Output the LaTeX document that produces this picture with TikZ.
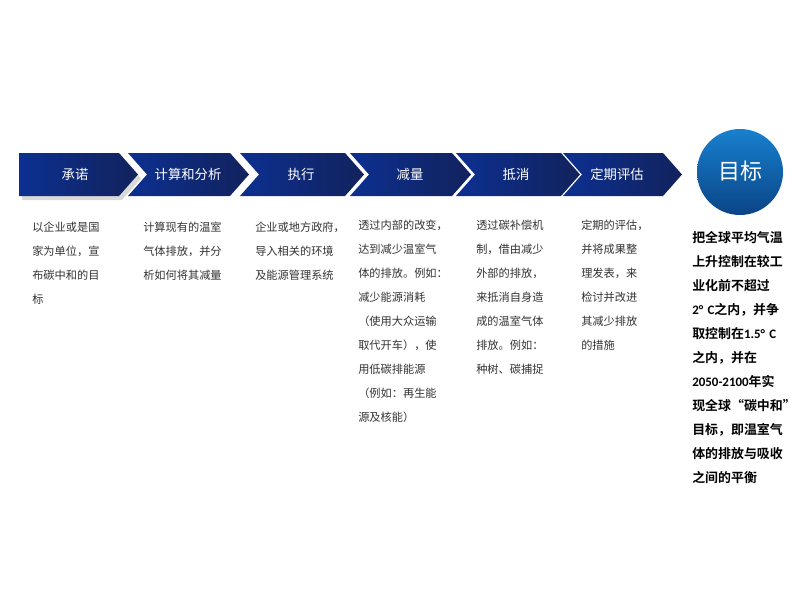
\documentclass[tikz,border=0pt]{standalone}
\usepackage{fontspec}
\setmainfont{Liberation Serif}
\newfontfamily\cjk[BoldFont={* Bold}]{Noto Sans CJK SC}
\newfontfamily\numf{Carlito}
\definecolor{navyL}{RGB}{12,48,145}
\definecolor{navyR}{RGB}{18,34,92}
\definecolor{ballT}{RGB}{24,128,206}
\definecolor{ballB}{RGB}{10,68,135}
\definecolor{bodyc}{RGB}{50,50,50}
\tikzset{
  chev/.style={left color=navyL, right color=navyR, draw=none},
  lab/.style={text=white, font=\cjk\fontsize{10}{12}\selectfont, inner sep=0pt},
  body/.style={text=bodyc, font=\cjk\fontsize{8.4}{18}\selectfont, align=left, anchor=north west, inner sep=0pt},
  goal/.style={text=black, font=\cjk\bfseries\fontsize{9.7}{18}\selectfont, align=left, anchor=north west, inner sep=0pt}
}
\begin{document}
\begin{tikzpicture}[x=0.75pt,y=-0.75pt]
\useasboundingbox (0,0) rectangle (800,600);
% shadow of first chevron
\fill[black!25, opacity=0.6] (22,157) -- (122,157) -- (141,178.5) -- (122,200) -- (22,200) -- cycle;
\path[chev] (19,153) -- (119,153) -- (138,174.5) -- (119,196) -- (19,196) -- cycle;
\path[chev] (128,153) -- (230,153) -- (249,174.5) -- (230,196) -- (128,196) -- (147,174.5) -- cycle;
\path[chev] (240,153) -- (345,153) -- (364,174.5) -- (345,196) -- (240,196) -- (259,174.5) -- cycle;
\path[chev] (350,153) -- (452,153) -- (471,174.5) -- (452,196) -- (350,196) -- (369,174.5) -- cycle;
\path[chev] (456,153) -- (561,153) -- (580,174.5) -- (561,196) -- (456,196) -- (475,174.5) -- cycle;
\path[chev] (563,153) -- (663,153) -- (682,174.5) -- (663,196) -- (563,196) -- (582,174.5) -- cycle;
\node[lab] (c1) at (75,174) {承诺};
\node[lab] (c2) at (188,174) {计算和分析};
\node[lab] (c3) at (301,174) {执行};
\node[lab] (c4) at (410,174) {减量};
\node[lab] (c5) at (516,174) {抵消};
\node[lab] (c6) at (617,174) {定期评估};
% goal ball
\shade[top color=ballT, bottom color=ballB] (740,172) circle (43);
\node[text=white, font=\cjk\fontsize{16.5}{18}\selectfont, inner sep=0pt] (goalt) at (740,171) {目标};
% body texts
\node[body] (t1) at (32,222) {以企业或是国\\家为单位，宣\\布碳中和的目\\标};
\node[body] (t2) at (143,222) {计算现有的温室\\气体排放，并分\\析如何将其减量};
\node[body] (t3) at (255,222) {企业或地方政府，\\导入相关的环境\\及能源管理系统};
\node[body] (t4) at (358,220) {透过内部的改变，\\达到减少温室气\\体的排放。例如：\\减少能源消耗\\（使用大众运输\\取代开车），使\\用低碳排能源\\（例如：再生能\\源及核能）};
\node[body] (t5) at (476,220) {透过碳补偿机\\制，借由减少\\外部的排放，\\来抵消自身造\\成的温室气体\\排放。例如：\\种树、碳捕捉};
\node[body] (t6) at (581,220) {定期的评估，\\并将成果整\\理发表，来\\检讨并改进\\其减少排放\\的措施};
\node[goal] (t7) at (692,231) {把全球平均气温\\上升控制在较工\\业化前不超过\\{\numf\bfseries 2°\,\,C}之内，并争\\取控制在{\numf\bfseries 1.5°\,\,C}\\之内，并在\\{\numf\bfseries 2050-2100}年实\\现全球“碳中和”\\目标，即温室气\\体的排放与吸收\\之间的平衡};
\end{tikzpicture}
\end{document}
